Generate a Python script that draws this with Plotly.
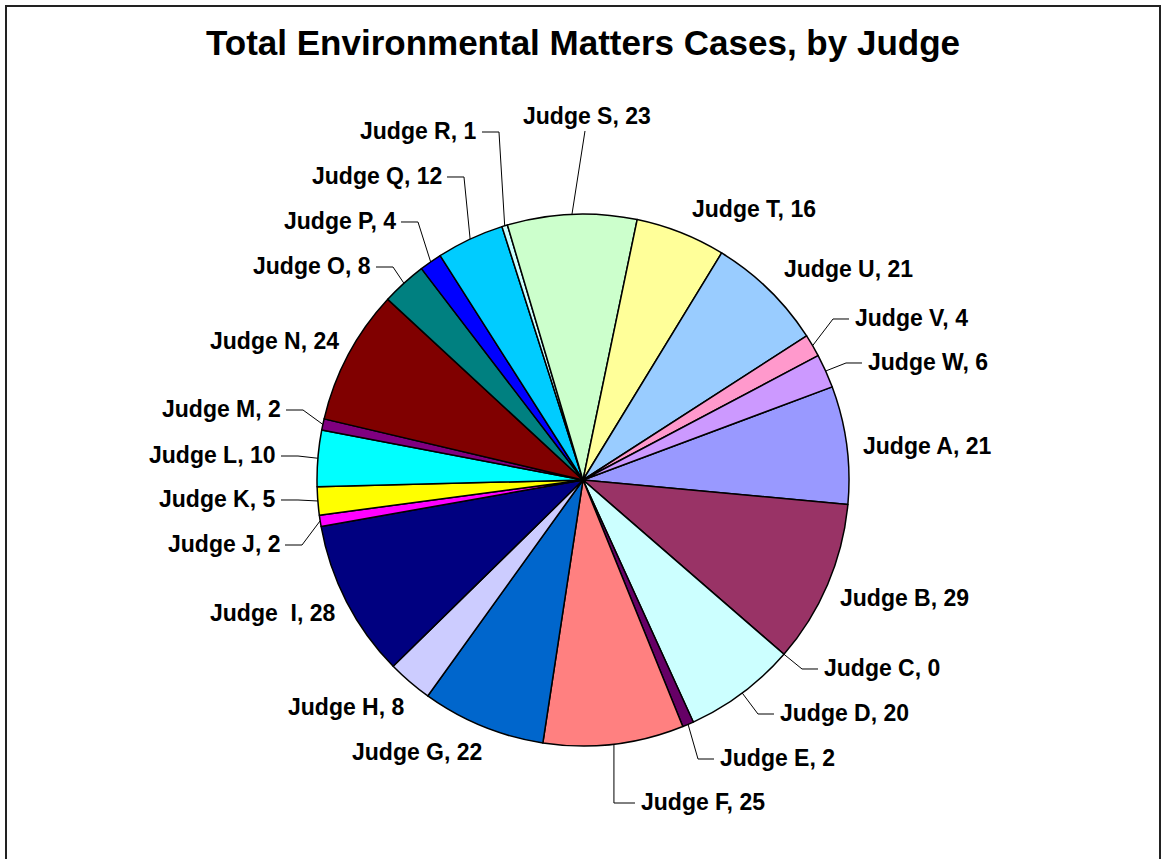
import math
import plotly.graph_objects as go

# ---------------- data ----------------
judges = ["Judge A", "Judge B", "Judge C", "Judge D", "Judge E", "Judge F", "Judge G",
          "Judge H", "Judge  I", "Judge J", "Judge K", "Judge L", "Judge M", "Judge N",
          "Judge O", "Judge P", "Judge Q", "Judge R", "Judge S", "Judge T", "Judge U",
          "Judge V", "Judge W"]
cases = [21, 29, 0, 20, 2, 25, 22, 8, 28, 2, 5, 10, 2, 24, 8, 4, 12, 1, 23, 16, 21, 4, 6]
title_text = "Total Environmental Matters Cases, by Judge"

# ---------------- style ----------------
slice_colors = ["#9999FF", "#993366", "#FFFFCC", "#CCFFFF", "#660066", "#FF8080", "#0066CC",
                "#CCCCFF", "#000080", "#FF00FF", "#FFFF00", "#00FFFF", "#800080", "#800000",
                "#008080", "#0000FF", "#00CCFF", "#CCFFFF", "#CCFFCC", "#FFFF99", "#99CCFF",
                "#FF99CC", "#CC99FF"]

W, H = 1162, 859
CX, CY, R = 583, 480, 266          # pie centre / radius in pixels
ROT = 69.5                          # start angle, degrees clockwise from 12 o'clock
FONT = "Liberation Sans, Arial, sans-serif"
LABEL_SIZE = 23

# label placement (pixels): (anchor x, centre y, side, leader)
# side 'L' -> text ends at x ; 'R' -> text starts at x ; 'T' -> centred above
label_layout = [
    (861, 446, "R", False),  # A
    (838, 598, "R", False),  # B
    (822, 668, "R", True),   # C
    (778, 713, "R", True),   # D
    (718, 758, "R", True),   # E
    (639, 802, "R", True),   # F
    (484, 752, "L", False),  # G
    (407, 707, "L", False),  # H
    (337, 613, "L", False),  # I
    (282, 544, "L", True),   # J
    (278, 499, "L", True),   # K
    (278, 455, "L", True),   # L
    (283, 409, "L", True),   # M
    (341, 341, "L", False),  # N
    (373, 266, "L", True),   # O
    (398, 221, "L", True),   # P
    (444, 176, "L", True),   # Q
    (479, 131, "L", True),   # R
    (587, 116, "T", True),   # S
    (690, 209, "R", False),  # T
    (782, 269, "R", False),  # U
    (853, 318, "R", True),   # V
    (866, 362, "R", True),   # W
]


def px(x):
    return x / W


def py(y):
    return 1 - y / H


fig = go.Figure()
fig.add_trace(go.Pie(
    labels=judges,
    values=cases,
    sort=False,
    direction="clockwise",
    rotation=ROT,
    textinfo="none",
    hoverinfo="label+value",
    marker=dict(colors=slice_colors, line=dict(color="#000000", width=1.5)),
    domain=dict(x=[px(CX - R), px(CX + R)], y=[py(CY + R), py(CY - R)]),
    showlegend=False,
))

annotations = []
shapes = []

total = sum(cases)
cum = 0
for name, v, (lx, ly, side, leader) in zip(judges, cases, label_layout):
    mid = math.radians(ROT + 360.0 * (cum + v / 2.0) / total)
    cum += v
    ex = CX + R * math.sin(mid)
    ey = CY - R * math.cos(mid)
    text = f"{name}, {v}".replace("  ", "\u00a0 ")
    xanchor = {"T": "center", "L": "right", "R": "left"}[side]
    annotations.append(dict(x=px(lx), y=py(ly), xref="paper", yref="paper", text=text,
                            showarrow=False, xanchor=xanchor, yanchor="middle",
                            font=dict(family=FONT, size=LABEL_SIZE, color="#000000",
                                      weight="bold")))
    if not leader:
        continue
    if side == "T":
        pts = [(ex, ey), (lx - 2, ly + 15)]
    elif side == "L":
        pts = [(ex, ey), (lx + 20, ly + 1), (lx + 3, ly + 1)]
    else:
        elbow_x = lx - 20
        if name == "Judge F":
            elbow_x = ex
        pts = [(ex, ey), (elbow_x, ly + 1), (lx - 4, ly + 1)]
    path = "M " + " L ".join(f"{px(a):.5f},{py(b):.5f}" for a, b in pts)
    shapes.append(dict(type="path", xref="paper", yref="paper", path=path,
                       line=dict(color="#000000", width=1)))

# title
annotations.append(dict(x=px(CX), y=py(43), xref="paper", yref="paper", text=title_text,
                        showarrow=False, xanchor="center", yanchor="middle",
                        font=dict(family=FONT, size=35, color="#000000", weight="bold")))

# chart frame
shapes.append(dict(type="rect", xref="paper", yref="paper",
                   x0=px(6), x1=px(1160), y0=py(880), y1=py(6),
                   line=dict(color="#222222", width=2), fillcolor="rgba(0,0,0,0)"))

fig.update_layout(
    width=W, height=H,
    margin=dict(l=0, r=0, t=0, b=0),
    paper_bgcolor="#FFFFFF",
    plot_bgcolor="#FFFFFF",
    annotations=annotations,
    shapes=shapes,
)

fig.write_html("out.html",
               config={"displayModeBar": False},
               post_script="document.body.style.margin='0';"
                           "document.body.style.overflow='hidden';")
